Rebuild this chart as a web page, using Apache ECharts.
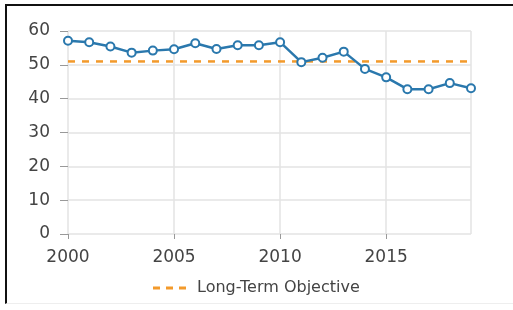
<!DOCTYPE html>
<html>
<head>
<meta charset="utf-8">
<script src="https://cdn.jsdelivr.net/npm/echarts@6/dist/echarts.min.js"></script>
<style>
  html, body { margin: 0; padding: 0; background: #fff; }
  #chart { width: 513px; height: 310px; }
  #frame {
    position: absolute; left: 5px; top: 4px; right: 0; bottom: 6px;
    border-left: 2px solid #111; border-top: 2px solid #111;
    border-bottom: 1px solid #eee; pointer-events: none;
  }
</style>
</head>
<body>
<div id="chart"></div>
<div id="frame"></div>
<script>
const years = [2000, 2001, 2002, 2003, 2004, 2005, 2006, 2007, 2008, 2009,
               2010, 2011, 2012, 2013, 2014, 2015, 2016, 2017, 2018, 2019];
const values = [57.1, 56.7, 55.4, 53.6, 54.2, 54.6, 56.4, 54.7, 55.8, 55.8,
                56.7, 50.8, 52.1, 53.9, 48.8, 46.3, 42.8, 42.8, 44.6, 43.1];
const objective = 51;
const yTicks = [0, 10, 20, 30, 40, 50, 60];

const chart = echarts.init(document.getElementById('chart'));

const textColor = '#444';
const gridColor = '#e3e3e3';
const font = 'DejaVu Sans';

const option = {
    animation: false,
    grid: { left: 68, right: 42, top: 31, bottom: 76 },
    legend: {
        data: [{
            name: 'Long-Term Objective',
            icon: 'path://M0,0h7v3h-7z M13,0h7v3h-7z M26,0h7v3h-7z'
        }],
        bottom: 9,
        left: 148,
        itemWidth: 33,
        itemHeight: 3,
        itemGap: 10,
        textStyle: { color: textColor, fontSize: 16, fontFamily: font, padding: [0, 0, 0, 6] }
    },
    xAxis: {
        type: 'value',
        min: 2000,
        max: 2019,
        interval: 5,
        axisLine: { show: false },
        axisTick: { show: true, length: 5, lineStyle: { color: '#999' } },
        splitLine: { show: true, lineStyle: { color: gridColor, width: 1.5 } },
        axisLabel: {
            color: textColor, fontSize: 17, fontFamily: font, margin: 15,
            showMaxLabel: false,
            formatter: (v) => String(v)
        }
    },
    yAxis: {
        type: 'value',
        min: yTicks[0],
        max: yTicks[yTicks.length - 1],
        interval: 10,
        axisLine: { show: false },
        axisTick: { show: true, length: 8, lineStyle: { color: '#999' } },
        splitLine: { show: true, lineStyle: { color: gridColor, width: 1.5 } },
        axisLabel: { color: textColor, fontSize: 17, fontFamily: font, margin: 18 }
    },
    series: [
        {
            name: 'Value',
            type: 'line',
            data: years.map((y, i) => [y, values[i]]),
            symbol: 'emptyCircle',
            symbolSize: 8,
            lineStyle: { color: '#2a78ad', width: 2.5 },
            itemStyle: { color: '#2a78ad', borderWidth: 1.5 },
            z: 3
        },
        {
            name: 'Long-Term Objective',
            type: 'line',
            data: [[years[0], objective], [years[years.length - 1], objective]],
            symbol: 'none',
            lineStyle: { color: '#f39a2b', width: 2.5, type: [7, 7] },
            itemStyle: { color: '#f39a2b' },
            z: 2
        }
    ]
};

chart.setOption(option);
</script>
</body>
</html>
